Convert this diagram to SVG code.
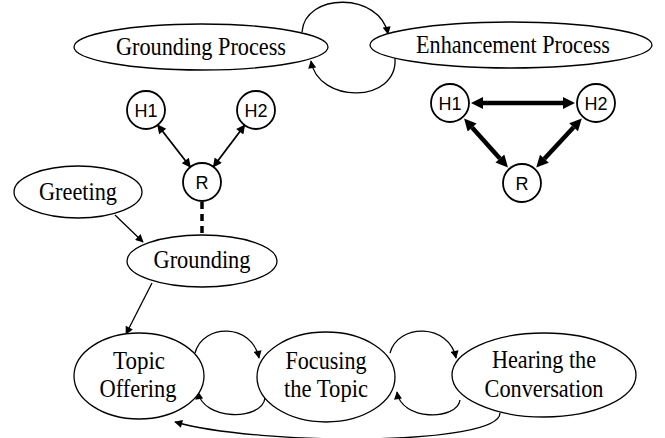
<svg xmlns="http://www.w3.org/2000/svg" width="665" height="438" viewBox="0 0 665 438">
<style>
.el{fill:#fff;stroke:#000;stroke-width:1.3}
.c{fill:#fff;stroke:#000;stroke-width:1.8}
.t{font-family:"Liberation Serif",serif;font-size:26px;fill:#000;text-anchor:middle}
.s{font-family:"Liberation Sans",sans-serif;font-size:18px;fill:#000;text-anchor:middle}
.ln{fill:none;stroke:#000;stroke-width:1.3}
.thin{fill:none;stroke:#000;stroke-width:1.8}
.thick{fill:none;stroke:#000;stroke-width:4.5}
</style>
<defs>
<marker id="a" viewBox="0 0 10 10" refX="9" refY="5" markerWidth="10" markerHeight="8" markerUnits="userSpaceOnUse" orient="auto-start-reverse"><path d="M0,0 L10,5 L0,10 z" fill="#000"/></marker>
<marker id="b" viewBox="0 0 10 10" refX="9" refY="5" markerWidth="11" markerHeight="9" markerUnits="userSpaceOnUse" orient="auto-start-reverse"><path d="M0,0 L10,5 L0,10 z" fill="#000"/></marker>
<marker id="c" viewBox="0 0 10 10" refX="0" refY="5" markerWidth="14" markerHeight="12" markerUnits="userSpaceOnUse" orient="auto-start-reverse"><path d="M0,0 L10,5 L0,10 z" fill="#000"/></marker>
</defs>
<g id="connectors">
<path class="ln" d="M302,32 C305,-8 380,-8 388,34" marker-end="url(#a)"/>
<path class="ln" d="M395,58 C398,104 318,104 311,61" marker-end="url(#a)"/>
<line class="thin" x1="157.7" y1="125" x2="190.3" y2="167" marker-start="url(#b)" marker-end="url(#b)"/>
<line class="thin" x1="244.6" y1="125.2" x2="213.4" y2="166.8" marker-start="url(#b)" marker-end="url(#b)"/>
<line x1="202" y1="202" x2="202" y2="235" stroke="#000" stroke-width="3.5" stroke-dasharray="7,5"/>
<line class="thick" x1="483" y1="103" x2="563" y2="103" marker-start="url(#c)" marker-end="url(#c)"/>
<line class="thick" x1="472.1" y1="127.5" x2="499.9" y2="158.5" marker-start="url(#c)" marker-end="url(#c)"/>
<line class="thick" x1="573.6" y1="127.2" x2="544.4" y2="158.8" marker-start="url(#c)" marker-end="url(#c)"/>
<line class="ln" x1="115" y1="215" x2="143" y2="242" marker-end="url(#a)"/>
<line class="ln" x1="152" y1="283" x2="126" y2="334" marker-end="url(#a)"/>
<path class="ln" d="M195,353 C203,323 252,323 259,358" marker-end="url(#a)"/>
<path class="ln" d="M265,398 C262,421 203,421 198,392" marker-end="url(#a)"/>
<path class="ln" d="M390,353 C398,323 449,323 456,358" marker-end="url(#a)"/>
<path class="ln" d="M460,400 C457,421 401,421 397,392" marker-end="url(#a)"/>
<path class="ln" d="M500,413 C500,446 260,446 175,422" marker-end="url(#a)"/>
</g>
<g id="grounding-process"><ellipse class="el" cx="201" cy="47" rx="127" ry="23"/><text class="t" x="201" y="55" textLength="170" lengthAdjust="spacingAndGlyphs">Grounding Process</text></g>
<g id="enhancement-process"><ellipse class="el" cx="511" cy="45" rx="141" ry="23"/><text class="t" x="513" y="53" textLength="194" lengthAdjust="spacingAndGlyphs">Enhancement Process</text></g>
<g id="l-h1"><circle class="c" cx="146" cy="110" r="19"/><text class="s" x="146" y="117">H1</text></g>
<g id="l-h2"><circle class="c" cx="256" cy="110" r="19"/><text class="s" x="256" y="117">H2</text></g>
<g id="l-r"><circle class="c" cx="202" cy="182" r="19"/><text class="s" x="202" y="189">R</text></g>
<g id="r-h1"><circle class="c" cx="450" cy="103" r="19"/><text class="s" x="450" y="110">H1</text></g>
<g id="r-h2"><circle class="c" cx="596" cy="103" r="19"/><text class="s" x="596" y="110">H2</text></g>
<g id="r-r"><circle class="c" cx="522" cy="183" r="19"/><text class="s" x="522" y="190">R</text></g>
<g id="greeting"><ellipse class="el" cx="78" cy="192" rx="64" ry="26"/><text class="t" x="78" y="200" textLength="78" lengthAdjust="spacingAndGlyphs">Greeting</text></g>
<g id="grounding"><ellipse class="el" cx="202" cy="261" rx="75" ry="26"/><text class="t" x="202" y="268" textLength="97" lengthAdjust="spacingAndGlyphs">Grounding</text></g>
<g id="topic-offering"><ellipse class="el" cx="139" cy="376" rx="65" ry="43"/><text class="t" x="139" y="369" textLength="52" lengthAdjust="spacingAndGlyphs">Topic</text><text class="t" x="138" y="397" textLength="77" lengthAdjust="spacingAndGlyphs">Offering</text></g>
<g id="focusing"><ellipse class="el" cx="326" cy="377" rx="69" ry="45"/><text class="t" x="326" y="369" textLength="81" lengthAdjust="spacingAndGlyphs">Focusing</text><text class="t" x="326" y="397" textLength="84" lengthAdjust="spacingAndGlyphs">the Topic</text></g>
<g id="hearing"><ellipse class="el" cx="544" cy="375" rx="92" ry="42"/><text class="t" x="544" y="368" textLength="104" lengthAdjust="spacingAndGlyphs">Hearing the</text><text class="t" x="544" y="397" textLength="119" lengthAdjust="spacingAndGlyphs">Conversation</text></g>
</svg>
